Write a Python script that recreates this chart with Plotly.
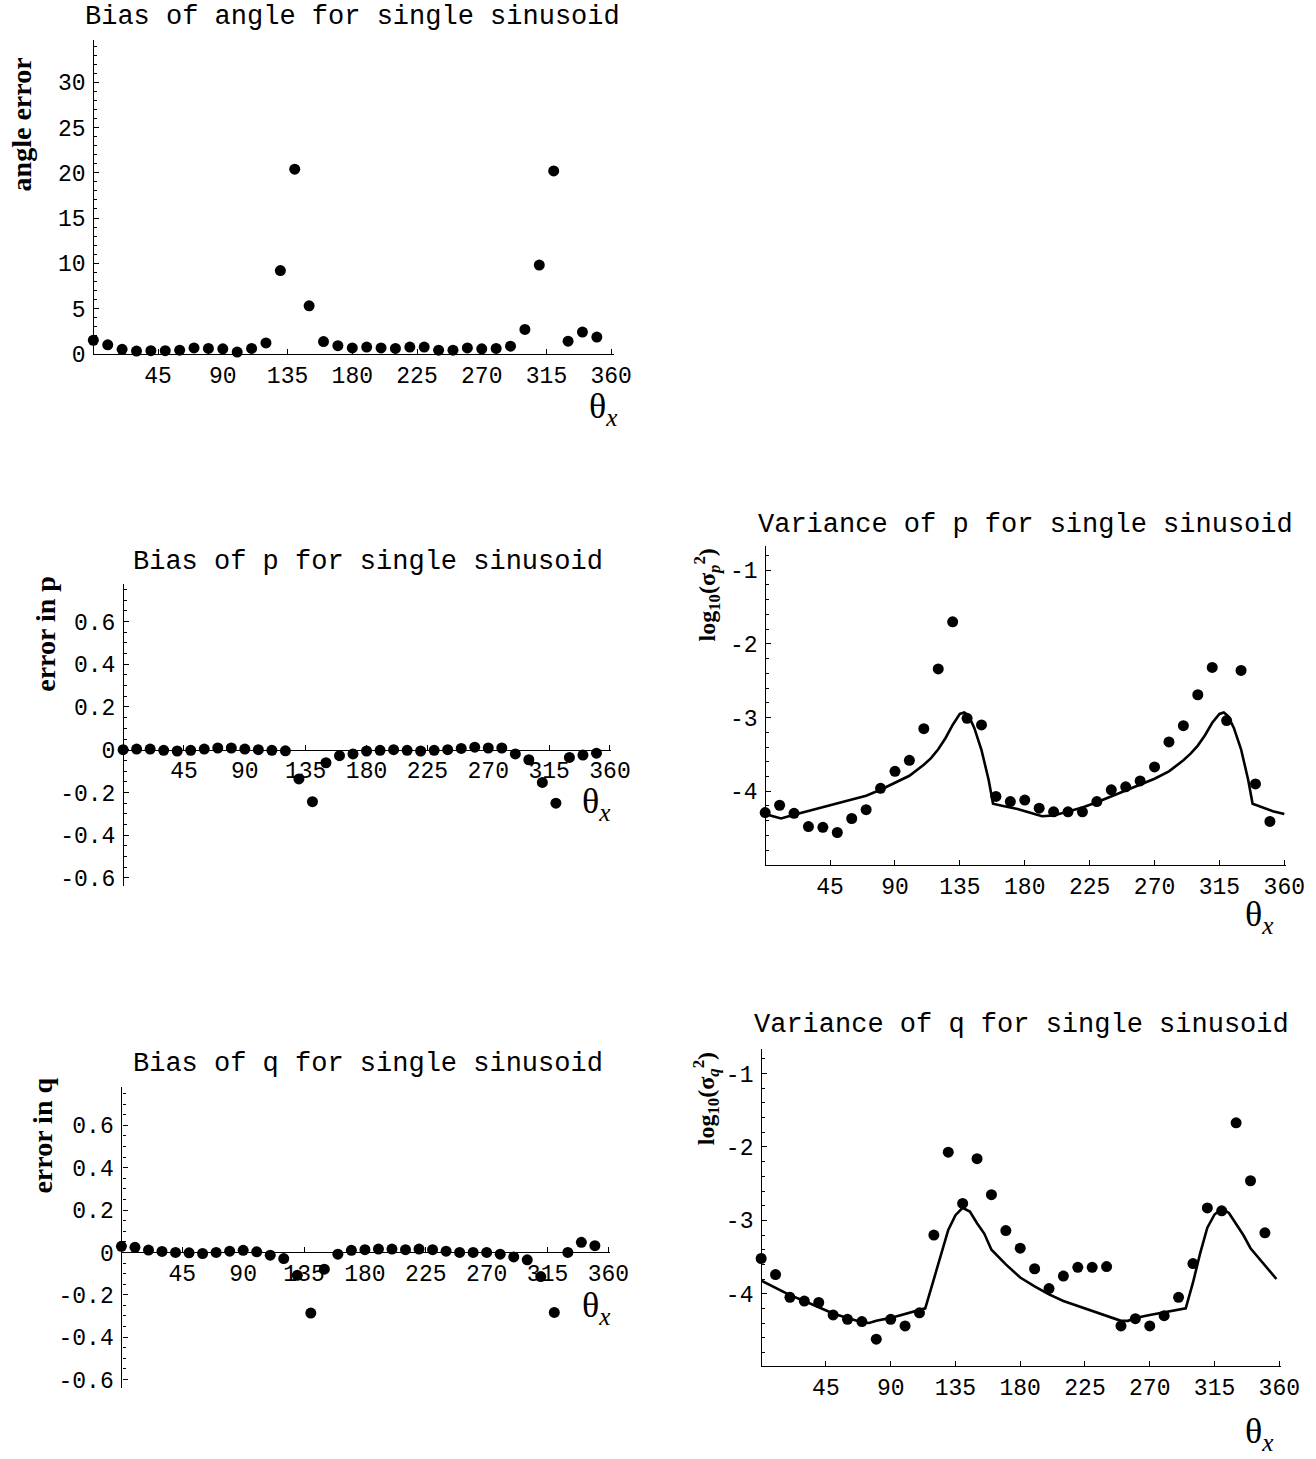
import plotly.graph_objects as go

# ---------------------------------------------------------------------------
# Data
# ---------------------------------------------------------------------------
theta_deg = [0, 10, 20, 30, 40, 50, 60, 70, 80, 90, 100, 110, 120, 130, 140,
             150, 160, 170, 180, 190, 200, 210, 220, 230, 240, 250, 260, 270,
             280, 290, 300, 310, 320, 330, 340, 350]

angle_bias = [1.5, 1.0, 0.5, 0.3, 0.35, 0.35, 0.4, 0.65, 0.6, 0.55, 0.2, 0.6,
              1.2, 9.2, 20.4, 5.3, 1.35, 0.9, 0.65, 0.75, 0.65, 0.6, 0.75,
              0.75, 0.4, 0.4, 0.65, 0.55, 0.6, 0.85, 2.7, 9.8, 20.2, 1.4, 2.4,
              1.85]

p_bias = [0.0, 0.003, 0.003, -0.003, -0.006, -0.003, 0.003, 0.008, 0.008,
          0.003, 0.0, -0.003, -0.005, -0.137, -0.243, -0.061, -0.028, -0.02,
          -0.006, -0.003, 0.0, -0.003, -0.006, -0.003, 0.0, 0.006, 0.012,
          0.008, 0.008, -0.02, -0.047, -0.153, -0.25, -0.036, -0.025, -0.016]

q_bias = [0.029, 0.024, 0.011, 0.005, 0.0, -0.002, -0.005, 0.0, 0.006, 0.01,
          0.003, -0.013, -0.029, -0.108, -0.286, -0.079, -0.008, 0.01, 0.013,
          0.016, 0.016, 0.013, 0.016, 0.013, 0.006, 0.0, 0.0, 0.0, -0.008,
          -0.021, -0.035, -0.114, -0.283, 0.0, 0.048, 0.032]

p_logvar = [-4.29, -4.19, -4.30, -4.48, -4.49, -4.56, -4.37, -4.25, -3.96,
            -3.73, -3.58, -3.15, -2.34, -1.70, -3.01, -3.10, -4.07, -4.14,
            -4.12, -4.23, -4.28, -4.28, -4.28, -4.14, -3.98, -3.94, -3.86,
            -3.67, -3.33, -3.11, -2.69, -2.32, -3.04, -2.36, -3.90, -4.41]

q_logvar = [-3.52, -3.74, -4.05, -4.10, -4.12, -4.29, -4.35, -4.38, -4.62,
            -4.35, -4.44, -4.26, -3.20, -2.07, -2.77, -2.16, -2.65, -3.14,
            -3.38, -3.66, -3.93, -3.76, -3.64, -3.64, -3.63, -4.44, -4.34,
            -4.44, -4.30, -4.05, -3.59, -2.83, -2.87, -1.67, -2.46, -3.17]

# theoretical variance curves
p_theory_deg = [0, 5, 11, 20, 30, 40, 50, 60, 70, 80, 90, 100, 110, 115, 120,
                125, 130, 135, 138, 141, 145, 150, 155, 158, 165, 175, 185,
                192, 200, 210, 220, 230, 240, 250, 260, 270, 280, 290, 295,
                300, 305, 310, 315, 318, 321, 325, 330, 335, 338, 345, 352, 360]
p_theory = [-4.31, -4.34, -4.37, -4.32, -4.27, -4.22, -4.17, -4.11, -4.06,
            -3.98, -3.89, -3.79, -3.64, -3.55, -3.43, -3.28, -3.10, -2.95,
            -2.93, -2.97, -3.14, -3.44, -3.85, -4.17, -4.20, -4.24, -4.30,
            -4.34, -4.33, -4.28, -4.22, -4.15, -4.07, -4.00, -3.92, -3.83,
            -3.73, -3.58, -3.49, -3.38, -3.24, -3.07, -2.95, -2.93, -2.98,
            -3.14, -3.43, -3.85, -4.17, -4.22, -4.27, -4.31]

q_theory_deg = [0, 10, 20, 30, 40, 50, 60, 70, 75, 80, 90, 100, 110, 114, 120,
                125, 130, 135, 140, 145, 150, 155, 160, 170, 180, 190, 200, 210,
                220, 230, 240, 250, 255, 260, 270, 280, 290, 295, 300, 305, 310,
                315, 320, 325, 330, 335, 340, 350, 358]
q_theory = [-3.82, -3.92, -4.02, -4.10, -4.19, -4.27, -4.33, -4.39, -4.40,
            -4.37, -4.33, -4.28, -4.22, -4.20, -3.80, -3.48, -3.13, -2.93,
            -2.83, -2.88, -3.04, -3.18, -3.40, -3.60, -3.78, -3.90, -4.01,
            -4.10, -4.17, -4.24, -4.30, -4.37, -4.37, -4.33, -4.29, -4.25,
            -4.21, -4.20, -3.85, -3.45, -3.10, -2.92, -2.84, -2.90, -3.05,
            -3.20, -3.38, -3.62, -3.80]

# tick labels
x_ticks = [45, 90, 135, 180, 225, 270, 315, 360]
x_tick_text = ["45", "90", "135", "180", "225", "270", "315", "360"]
angle_ticks = [0, 5, 10, 15, 20, 25, 30]
angle_tick_text = ["0", "5", "10", "15", "20", "25", "30"]
bias_ticks = [-0.6, -0.4, -0.2, 0, 0.2, 0.4, 0.6]
bias_tick_text = ["-0.6", "-0.4", "-0.2", "0", "0.2", "0.4", "0.6"]
logvar_ticks = [-4, -3, -2, -1]
logvar_tick_text = ["-4", "-3", "-2", "-1"]

# ---------------------------------------------------------------------------
# Layout helpers (pixel geometry of the 1316 x 1459 page)
# ---------------------------------------------------------------------------
W, H = 1316, 1459
MONO = "Liberation Mono, Courier New, monospace"
SERIF = "Liberation Serif, Times New Roman, serif"

fig = go.Figure()
layout = dict(
    width=W, height=H, margin=dict(l=0, r=0, t=0, b=0),
    paper_bgcolor="white", plot_bgcolor="white", showlegend=False,
    annotations=[],
)


def fx(px):
    return px / W


def fy(py):
    return 1 - py / H


def add_panel(idx, px_left, px_right, py_top, py_bottom, xrange_, yrange_,
              y_axis_at, yticks, yticktext, y_minor):
    xa = "xaxis" if idx == 1 else f"xaxis{idx}"
    ya = "yaxis" if idx == 1 else f"yaxis{idx}"
    # pixel row of the horizontal axis
    frac = (y_axis_at - yrange_[0]) / (yrange_[1] - yrange_[0])
    py_axis = py_bottom - frac * (py_bottom - py_top)
    layout[xa] = dict(
        domain=[fx(px_left), fx(px_right)], range=xrange_,
        anchor="free", position=fy(py_axis),
        showgrid=False, zeroline=False, showline=True, linecolor="black",
        linewidth=1.2, ticks="inside", ticklen=5, tickwidth=1,
        tickcolor="black", tickmode="array", tickvals=x_ticks,
        ticktext=x_tick_text, ticklabelstandoff=0,
        tickfont=dict(family=MONO, size=23, color="black"),
    )
    layout[ya] = dict(
        domain=[fy(py_bottom), fy(py_top)], range=yrange_,
        anchor="free", position=fx(px_left),
        showgrid=False, zeroline=False, showline=True, linecolor="black",
        linewidth=1.2, ticks="inside", ticklen=5, tickwidth=1,
        tickcolor="black", tickmode="array", tickvals=yticks,
        ticktext=yticktext, ticklabelstandoff=3,
        tickfont=dict(family=MONO, size=23, color="black"),
        minor=dict(ticks="inside", ticklen=3, tickwidth=1, tickcolor="black",
                   tickmode="linear", tick0=0, dtick=y_minor, showgrid=False),
    )
    return ("x" if idx == 1 else f"x{idx}"), ("y" if idx == 1 else f"y{idx}")


def dots(x, y, xr, yr):
    fig.add_trace(go.Scatter(x=x, y=y, mode="markers", xaxis=xr, yaxis=yr,
                             cliponaxis=False,
                             marker=dict(size=11, color="black")))


def curve(x, y, xr, yr):
    fig.add_trace(go.Scatter(x=x, y=y, mode="lines", xaxis=xr, yaxis=yr,
                             cliponaxis=False,
                             line=dict(color="black", width=2.6)))


def text(s, x, y, size, family, xanchor="center", angle=0):
    layout["annotations"].append(dict(
        text=s, x=fx(x), y=fy(y), xref="paper", yref="paper",
        xanchor=xanchor, yanchor="middle", showarrow=False, textangle=angle,
        font=dict(family=family, size=size, color="black")))


THETA = "θ<sub><i>x</i></sub>"

# Bias of angle
xr, yr = add_panel(1, 94.7, 623.1, 40.1, 357.5, [0, 362], [0, 34.7], 0,
                   angle_ticks, angle_tick_text, 1)
dots(theta_deg, angle_bias, xr, yr)
text("Bias of angle for single sinusoid", 358, 17, 27, MONO)
text("<b>angle error</b>", 22, 126, 28, SERIF, angle=-90)
text(THETA, 596, 413, 36, SERIF, xanchor="left")

# Bias of p
xr, yr = add_panel(2, 124.9, 620.3, 590.4, 894.8, [0, 361], [-0.636, 0.774], 0,
                   bias_ticks, bias_tick_text, 0.05)
dots(theta_deg, p_bias, xr, yr)
text("Bias of p for single sinusoid", 373, 568, 27, MONO)
text("<b>error in p</b>", 46, 640, 28, SERIF, angle=-90)
text(THETA, 588, 812, 36, SERIF, xanchor="left")

# Variance of p
xr, yr = add_panel(3, 776.4, 1304.6, 551.6, 873.9, [0, 361], [-5.0, -0.67], -5.0,
                   logvar_ticks, logvar_tick_text, 0.2)
curve(p_theory_deg, p_theory, xr, yr)
dots(theta_deg, p_logvar, xr, yr)
text("Variance of p for single sinusoid", 1041, 530, 27, MONO)
text("<b>log<sub>10</sub>(σ<sub><i>p</i></sub><sup>2</sup>)</b>", 717, 601, 24,
     SERIF, angle=-90)
text(THETA, 1261, 926, 36, SERIF, xanchor="left")

# Bias of q
xr, yr = add_panel(4, 123.2, 618.7, 1098.1, 1402.0, [0, 361], [-0.638, 0.782], 0,
                   bias_ticks, bias_tick_text, 0.05)
dots(theta_deg, q_bias, xr, yr)
text("Bias of q for single sinusoid", 373, 1075, 27, MONO)
text("<b>error in q</b>", 43, 1147, 28, SERIF, angle=-90)
text(THETA, 588, 1321, 36, SERIF, xanchor="left")

# Variance of q
xr, yr = add_panel(5, 772.3, 1299.5, 1059.6, 1380.5, [0, 361], [-4.99, -0.66], -4.99,
                   logvar_ticks, logvar_tick_text, 0.2)
curve(q_theory_deg, q_theory, xr, yr)
dots(theta_deg, q_logvar, xr, yr)
text("Variance of q for single sinusoid", 1036, 1036, 27, MONO)
text("<b>log<sub>10</sub>(σ<sub><i>q</i></sub><sup>2</sup>)</b>", 716, 1110, 24,
     SERIF, angle=-90)
text(THETA, 1261, 1448, 36, SERIF, xanchor="left")

fig.update_layout(**layout)
fig.write_html("out.html")
